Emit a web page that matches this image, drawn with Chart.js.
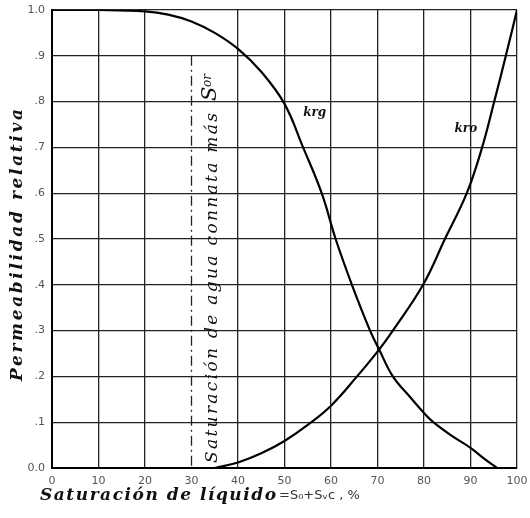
<!DOCTYPE html>
<html>
<head>
<meta charset="utf-8">
<script src="https://cdn.jsdelivr.net/npm/chart.js@4/dist/chart.umd.min.js"></script>
<style>
html,body{margin:0;padding:0;background:#fff;}
#wrap{width:530px;height:518px;position:relative;}
</style>
</head>
<body>
<div id="wrap"><canvas id="c" width="530" height="518"></canvas></div>
<script>
// Data
const satKrg = [0,10,20,25,30,35,40,45,50,54,58,61,64.5,68.4,70.3,73.3,77,80,82,86,90,93,95.7];
const krg    = [1.0,1.0,0.997,0.99,0.975,0.95,0.915,0.865,0.795,0.70,0.60,0.50,0.40,0.30,0.26,0.20,0.155,0.12,0.10,0.07,0.044,0.02,0];
const satKro = [35,40,45,50,55,60,65.6,70.3,73.3,79.8,84.5,89.2,92.5,95.1,97.6,100];
const kro    = [0,0.012,0.032,0.059,0.094,0.136,0.20,0.258,0.30,0.40,0.50,0.60,0.70,0.80,0.90,1.0];
const xTickLabels = ['0','10','20','30','40','50','60','70','80','90','100'];
const yTickLabels = ['0.0','.1','.2','.3','.4','.5','.6','.7','.8','.9','1.0'];
const curveLabels = [{text:'krg', x:56.5, y:0.775}, {text:'kro', x:89, y:0.74}];
const dashedSat = 30;

function fitText(ctx, text, x, y, target) {
  ctx.letterSpacing = '0px';
  const w = ctx.measureText(text).width;
  const sp = Math.max(0, (target - w) / Math.max(1, text.length - 1));
  ctx.letterSpacing = sp + 'px';
  ctx.fillText(text, x, y);
  ctx.letterSpacing = '0px';
}

const textPlugin = {
  id: 'texts',
  beforeDatasetsDraw(chart) {
    const {ctx, scales:{x, y}} = chart;
    ctx.save();
    ctx.strokeStyle = '#222';
    ctx.lineWidth = 1.3;
    ctx.setLineDash([10,4,2,4]);
    const px = x.getPixelForValue(dashedSat);
    ctx.beginPath();
    ctx.moveTo(px, y.getPixelForValue(0.9));
    ctx.lineTo(px, y.getPixelForValue(0));
    ctx.stroke();
    ctx.restore();
  },
  afterDraw(chart) {
    const {ctx, scales:{x, y}} = chart;
    ctx.save();
    ctx.fillStyle = '#111';
    // y axis title
    ctx.save();
    ctx.translate(18, 245);
    ctx.rotate(-Math.PI/2);
    ctx.font = 'bold italic 17px "DejaVu Serif"';
    ctx.textAlign = 'left';
    ctx.textBaseline = 'middle';
    fitText(ctx, 'Permeabilidad relativa', -136, 0, 272);
    ctx.restore();
    // x axis title
    ctx.font = 'bold italic 17px "DejaVu Serif"';
    ctx.textAlign = 'left';
    ctx.textBaseline = 'middle';
    fitText(ctx, 'Saturación de líquido', 40, 496, 236);
    ctx.font = '13px "DejaVu Sans"';
    ctx.fillStyle = '#333';
    ctx.fillText('=S\u2080+S\u1d65c , %', 279, 496);
    // vertical annotation
    ctx.save();
    ctx.fillStyle = '#111';
    ctx.translate(213, 463);
    ctx.rotate(-Math.PI/2);
    ctx.font = 'italic 17px "DejaVu Serif"';
    ctx.textBaseline = 'middle';
    fitText(ctx, 'Saturación de agua connata más', 0, 0, 350);
    ctx.font = 'italic 21px "DejaVu Serif"';
    ctx.fillText('S', 362, -2);
    ctx.font = 'italic 12px "DejaVu Serif"';
    ctx.fillText('or', 376, -5);
    ctx.restore();
    // curve labels
    ctx.font = 'bold italic 12px "DejaVu Serif"';
    ctx.fillStyle = '#111';
    ctx.textAlign = 'center';
    curveLabels.forEach(l => {
      ctx.fillText(l.text, x.getPixelForValue(l.x), y.getPixelForValue(l.y));
    });
    ctx.restore();
  }
};

new Chart(document.getElementById('c'), {
  type: 'line',
  data: {
    datasets: [
      {label:'krg', data: satKrg.map((s,i)=>({x:s, y:krg[i]})), borderColor:'#000', borderWidth:2.2, pointRadius:0, tension:0.4, fill:false},
      {label:'kro', data: satKro.map((s,i)=>({x:s, y:kro[i]})), borderColor:'#000', borderWidth:2.2, pointRadius:0, tension:0.4, fill:false}
    ]
  },
  options: {
    responsive:false,
    animation:false,
    layout:{padding:{left:0, right:13, top:10, bottom:0}},
    plugins:{legend:{display:false}, tooltip:{enabled:false}},
    scales:{
      x:{
        type:'linear', min:0, max:100,
        afterFit(s){ s.height = 50; s.paddingLeft = 0; s.paddingRight = 0; },
        ticks:{stepSize:10, autoSkip:false, maxRotation:0, padding:7, color:'#555', font:{family:'DejaVu Sans', size:11},
          callback:(v)=> xTickLabels[Math.round(v/10)] },
        grid:{color:(c)=> (c.tick && c.tick.value===dashedSat) ? 'rgba(0,0,0,0)' : '#222', lineWidth:1.3, drawTicks:false},
        border:{color:'#000', width:2}
      },
      y:{
        type:'linear', min:0, max:1,
        afterFit(s){ s.width = 52; s.paddingTop = 0; s.paddingBottom = 0; },
        ticks:{stepSize:0.1, autoSkip:false, padding:7, color:'#555', font:{family:'DejaVu Sans', size:11},
          callback:(v)=> yTickLabels[Math.round(v*10)] },
        grid:{color:'#222', lineWidth:1.3, drawTicks:false},
        border:{color:'#000', width:2}
      }
    }
  },
  plugins:[textPlugin]
});
</script>
</body>
</html>
